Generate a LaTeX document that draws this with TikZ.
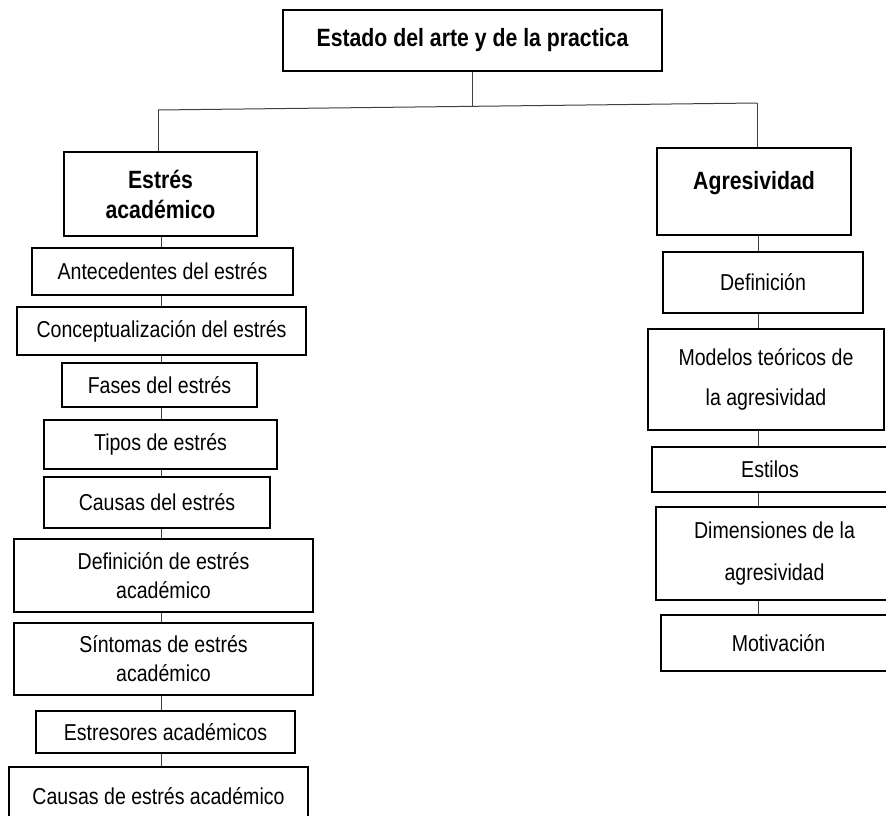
\documentclass[tikz,border=0pt]{standalone}
\usepackage{fontspec}
\setmainfont{Liberation Sans}[FakeStretch=0.85]
\begin{document}
\begin{tikzpicture}[x=1pt,y=-1pt,
	box/.style={draw,line width=1.8pt,align=center,inner sep=0pt,font=\fontsize{23}{29}\selectfont},
	head/.style={box,font=\fontsize{25}{30}\selectfont\bfseries},
	link/.style={draw=black!75,line width=1pt}]
	\clip (0,0) rectangle (886,816);
	\fill[white] (0,0) rectangle (886,816);
	% heads
	\node[head,minimum width=379pt,minimum height=61pt] (top) at (472.5,40.5) {Estado del arte y de la practica};
	\node[head,minimum width=193pt,minimum height=84pt] (estres) at (160.5,194) {Estrés\\académico};
	\node[head,minimum width=194pt,minimum height=87pt,text depth=23pt] (agres) at (754,191.5) {Agresividad};
	% left column
	\node[box,minimum width=261pt,minimum height=47pt] (ant) at (162.5,271.5) {Antecedentes del estrés};
	\node[box,minimum width=289pt,minimum height=48pt] (conc) at (161.5,331) {Conceptualización del estrés};
	\node[box,minimum width=195pt,minimum height=44pt] (fases) at (159.5,385) {Fases del estrés};
	\node[box,minimum width=233pt,minimum height=49pt] (tipos) at (160.5,444.5) {Tipos de estrés};
	\node[box,minimum width=226pt,minimum height=51pt] (causas) at (157,502.5) {Causas del estrés};
	\node[box,minimum width=299pt,minimum height=73pt] (defe) at (163.5,575.5) {Definición de estrés\\académico};
	\node[box,minimum width=299pt,minimum height=72pt] (sint) at (163.5,659) {Síntomas de estrés\\académico};
	\node[box,minimum width=259pt,minimum height=42pt] (estr) at (165.5,732) {Estresores académicos};
	\node[box,minimum width=299pt,minimum height=58pt] (causae) at (158.5,796) {Causas de estrés académico};
	% right column
	\node[box,minimum width=200pt,minimum height=61pt] (def) at (763,282.5) {Definición};
	\node[box,minimum width=236pt,minimum height=101pt] (mod) at (766,379.5) {Modelos teóricos de\\[11pt]la agresividad};
	\node[box,minimum width=236pt,minimum height=45pt] (est) at (770,469.5) {Estilos};
	\node[box,minimum width=237pt,minimum height=93pt] (dim) at (774.5,553.5) {Dimensiones de la\\[13pt]agresividad};
	\node[box,minimum width=235pt,minimum height=56pt] (mot) at (778.5,643) {Motivación};
	% branches
	\coordinate (hl) at (158,110);
	\coordinate (hm) at (472.5,106.3);
	\coordinate (hr) at (757,103);
	\draw[link] (top.south) -- (hm);
	\draw[link] (hl) -- (hr);
	\draw[link] (hl) -- (hl |- estres.north);
	\draw[link] (hr) -- (hr |- agres.north);
	% left links
	\coordinate (lc) at (161,0);
	\draw[link] (estres.south -| lc) -- (ant.north -| lc);
	\draw[link] (ant.south -| lc) -- (conc.north -| lc);
	\draw[link] (conc.south -| lc) -- (fases.north -| lc);
	\draw[link] (fases.south -| lc) -- (tipos.north -| lc);
	\draw[link] (tipos.south -| lc) -- (causas.north -| lc);
	\draw[link] (causas.south -| lc) -- (defe.north -| lc);
	\draw[link] (defe.south -| lc) -- (sint.north -| lc);
	\draw[link] (sint.south -| lc) -- (estr.north -| lc);
	\draw[link] (estr.south -| lc) -- (causae.north -| lc);
	% right links
	\coordinate (rc) at (758,0);
	\draw[link] (agres.south -| rc) -- (def.north -| rc);
	\draw[link] (def.south -| rc) -- (mod.north -| rc);
	\draw[link] (mod.south -| rc) -- (est.north -| rc);
	\draw[link] (est.south -| rc) -- (dim.north -| rc);
	\draw[link] (dim.south -| rc) -- (mot.north -| rc);
\end{tikzpicture}
\end{document}
